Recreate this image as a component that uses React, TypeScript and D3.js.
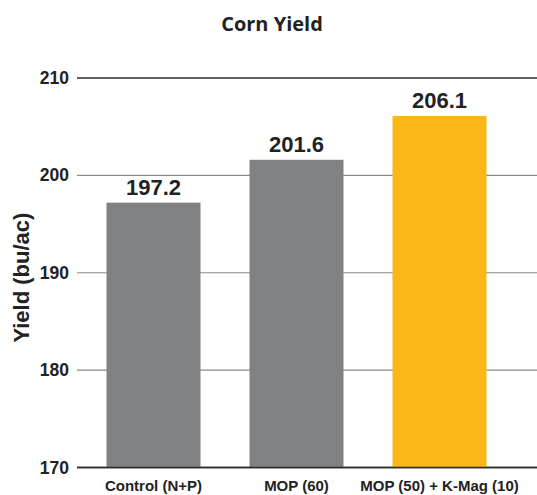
import { useEffect, useRef } from 'react';
import { scaleBand, scaleLinear, select } from 'd3';

const categories = ['Control (N+P)', 'MOP (60)', 'MOP (50) + K-Mag (10)'];
const yields = [197.2, 201.6, 206.1];
const barColors = ['#808183', '#808183', '#fbb617'];
const yTicks = [170, 180, 190, 200, 210];

export default function App() {
  const svgRef = useRef<SVGSVGElement>(null);

  useEffect(() => {
    const width = 537;
    const height = 495;
    const margin = { top: 78, right: 0, bottom: 27, left: 77 };
    const font = '"Liberation Sans", Arial, sans-serif';

    const svg = select(svgRef.current);
    svg.selectAll('*').remove();
    svg.attr('width', width).attr('height', height);

    const x = scaleBand()
      .domain(categories)
      .range([82, 82 + 143 * 3])
      .paddingInner(49 / 143)
      .paddingOuter(49 / 143 / 2);

    const y = scaleLinear()
      .domain([170, 210])
      .range([height - margin.bottom - 0.5, margin.top]);

    // title
    svg
      .append('text')
      .attr('x', 272)
      .attr('y', 31)
      .attr('text-anchor', 'middle')
      .attr('font-family', '"Open Sans", sans-serif')
      .attr('font-weight', 700)
      .attr('font-size', 20)
      .attr('fill', '#222')
      .text('Corn Yield');

    // gridlines
    svg
      .selectAll('line.grid')
      .data(yTicks)
      .enter()
      .append('line')
      .attr('class', 'grid')
      .attr('x1', margin.left)
      .attr('x2', width)
      .attr('y1', (d) => y(d))
      .attr('y2', (d) => y(d))
      .attr('stroke', (d) => (d === 210 || d === 170 ? '#2b2b2b' : '#8a8a8a'))
      .attr('stroke-width', (d) => (d === 210 || d === 170 ? 1.5 : 1.2));

    // tick labels
    svg
      .selectAll('text.tick')
      .data(yTicks)
      .enter()
      .append('text')
      .attr('class', 'tick')
      .attr('x', 69)
      .attr('y', (d) => y(d) + 6)
      .attr('text-anchor', 'end')
      .attr('font-family', font)
      .attr('font-weight', 700)
      .attr('font-size', 17.5)
      .attr('fill', '#222')
      .text((d) => d);

    // y title
    svg
      .append('text')
      .attr('transform', `translate(29, ${y(189.5)}) rotate(-90)`)
      .attr('text-anchor', 'middle')
      .attr('font-family', font)
      .attr('font-weight', 700)
      .attr('font-size', 22)
      .attr('fill', '#222')
      .text('Yield (bu/ac)');

    const group = svg
      .selectAll('g.bar')
      .data(categories)
      .enter()
      .append('g')
      .attr('class', 'bar');

    group
      .append('rect')
      .attr('x', (d) => x(d)!)
      .attr('width', x.bandwidth())
      .attr('y', (d, i) => y(yields[i]))
      .attr('height', (d, i) => y(170) - y(yields[i]))
      .attr('fill', (d, i) => barColors[i]);

    group
      .append('text')
      .attr('x', (d) => x(d)! + x.bandwidth() / 2)
      .attr('y', (d, i) => y(yields[i]) - 8)
      .attr('text-anchor', 'middle')
      .attr('font-family', font)
      .attr('font-weight', 700)
      .attr('font-size', 22)
      .attr('fill', '#222')
      .text((d, i) => yields[i].toFixed(1));

    group
      .append('text')
      .attr('x', (d) => x(d)! + x.bandwidth() / 2)
      .attr('y', 491)
      .attr('text-anchor', 'middle')
      .attr('font-family', font)
      .attr('font-weight', 700)
      .attr('font-size', 15)
      .attr('fill', '#222')
      .text((d) => d);

    // baseline on top of bars
    svg
      .append('line')
      .attr('x1', margin.left)
      .attr('x2', width)
      .attr('y1', y(170))
      .attr('y2', y(170))
      .attr('stroke', '#2b2b2b')
      .attr('stroke-width', 1.5);
  }, []);

  return (
    <div>
      <svg ref={svgRef} style={{ position: 'absolute', left: 0, top: 0 }}></svg>
    </div>
  );
}
